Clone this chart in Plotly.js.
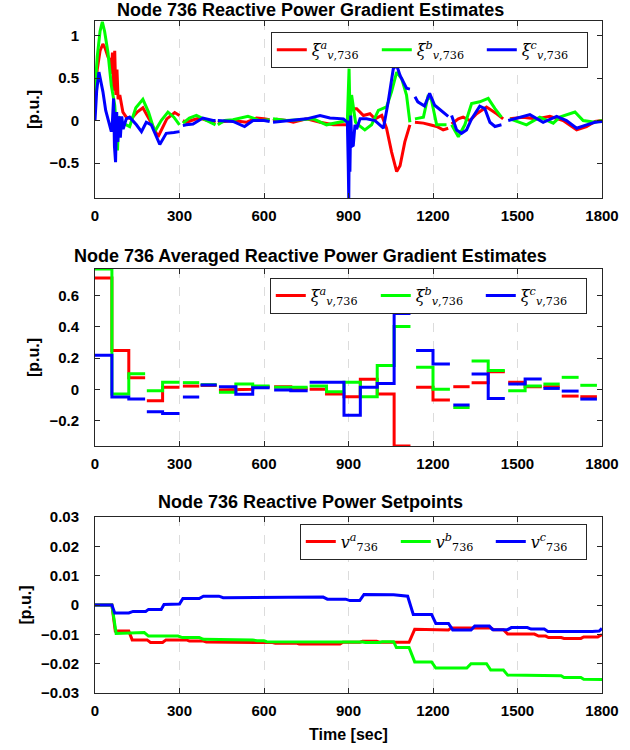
<!DOCTYPE html>
<html>
<head>
<meta charset="utf-8">
<script src="https://cdn.plot.ly/plotly-3.0.1.min.js"></script>
<style>html,body{margin:0;padding:0;background:#fff;}#chart{width:630px;height:750px;}</style>
</head>
<body>
<div id="chart"></div>
<script>
// ---------- Panel 1: raw gradient estimates (null = gap in data) ----------
const tA = [0,8,18,28,36,46,52,58,62,66,70,74,78,82,88,99,111,129,150,170,195,224,255,283,300,305,312,324,350,371,400,428,432,436,460,490,537,573,600,620,626,632,645,680,704,751,799,846,893,900,905,929,953,976,994,1018,1035,1053,1071,1083,1100,1118,1127,1136,1166,1189,1213,1236,1254,1260,1266,1290,1307,1331,1355,1390,1426,1449,1460,1473,1520,1568,1615,1662,1710,1745,1775,1800];
const xiA = [0.3,0.6,0.82,0.9,0.85,0.75,0.72,0.55,0.8,0.35,0.82,0.3,0.6,0.25,0.3,0.1,0.04,0.02,0.1,0.15,0.0,-0.19,0.02,0.094,0.06,null,0.0,-0.02,0.01,0.03,0.0,-0.02,null,-0.02,-0.01,0.0,-0.02,0.03,0.02,0.01,null,0.0,0.015,0.0,-0.02,0.02,-0.02,-0.05,-0.05,-0.04,0.14,0.14,0.06,0.08,0.02,0.06,-0.09,-0.37,-0.6,-0.53,-0.25,-0.05,null,-0.02,-0.03,-0.05,-0.07,-0.11,-0.09,null,-0.04,0.02,0.04,0.0,0.08,0.16,0.08,0.02,null,0.02,0.04,0.02,0.05,0.0,-0.11,-0.07,-0.01,0.0];

const tB = [0,8,18,26,34,46,58,70,76,80,84,92,111,123,145,170,190,212,235,259,280,300,305,312,335,360,400,428,432,436,460,490,543,585,620,626,632,680,728,775,822,870,896,902,906,911,917,925,935,958,982,1006,1035,1053,1071,1089,1106,1118,1127,1136,1166,1182,1194,1213,1248,1258,1266,1290,1313,1337,1366,1396,1420,1443,1460,1473,1532,1579,1627,1650,1704,1733,1775,1800];
const xiB = [0.35,0.75,1.05,1.16,1.05,0.8,0.41,0.18,-0.1,-0.35,0.05,-0.02,-0.05,-0.07,0.15,0.25,0.1,-0.13,0.0,0.1,0.04,-0.05,null,-0.03,0.03,0.06,0.0,-0.05,null,-0.05,0.0,0.01,0.05,0.0,0.01,null,0.02,0.0,0.01,0.02,-0.05,-0.02,0.0,0.61,-0.05,0.3,0.18,-0.02,-0.05,-0.11,-0.05,0.12,0.16,0.34,0.57,0.49,0.3,-0.02,null,0.02,0.04,0.28,0.25,-0.05,-0.05,null,-0.05,-0.19,-0.05,0.2,0.22,0.26,0.14,0.04,null,0.02,-0.05,0.04,-0.03,0.04,0.1,0.0,-0.02,0.0];

const tC = [0,6,14,22,28,38,46,58,62,66,69,73,77,81,85,90,95,100,111,123,147,165,182,200,230,253,280,300,305,312,324,348,383,419,428,432,436,490,531,561,600,620,626,632,657,704,751,799,834,882,896,899,901,903,905,908,912,917,923,929,941,964,994,1024,1041,1059,1071,1083,1106,1118,1127,1136,1146,1170,1188,1206,1230,1254,1260,1266,1284,1301,1319,1337,1366,1384,1402,1420,1443,1455,1467,1497,1544,1591,1639,1674,1710,1745,1775,1800];
const xiC = [0.0,0.35,0.57,0.45,0.34,0.12,0.02,-0.13,0.0,0.26,-0.3,-0.49,0.1,-0.25,0.05,-0.2,0.05,-0.1,0.02,0.04,-0.05,-0.13,-0.02,-0.05,-0.28,-0.15,-0.14,-0.13,null,-0.06,-0.05,-0.04,0.03,0.0,0.0,null,0.0,-0.01,-0.07,0.0,0.0,-0.01,null,-0.02,-0.01,0.0,0.02,0.06,0.03,0.02,-0.02,-0.5,-0.93,0.0,-0.6,0.06,-0.3,-0.29,-0.05,-0.1,0.02,0.02,0.0,-0.09,0.22,0.61,0.65,0.53,0.38,0.37,null,0.28,0.22,0.17,0.32,0.18,0.12,0.05,null,0.06,-0.11,-0.15,-0.11,0.02,0.17,0.14,-0.02,-0.07,-0.05,null,0.0,0.03,0.07,-0.02,0.05,0.0,-0.09,-0.05,-0.02,-0.01];

// ---------- Panel 2: averaged estimates, one value per averaging window ----------
const segStart = [0,60,120,184,240,312,375,440,500,560,636,695,762,822,884,942,1002,1062,1140,1200,1272,1337,1396,1467,1527,1592,1657,1723];
const segEnd   = [60,120,178,240,300,370,432,500,560,620,695,755,822,884,942,1002,1062,1120,1200,1260,1330,1396,1455,1527,1586,1650,1717,1782];
const avgA = [0.712,0.248,0.075,-0.073,0.013,0.021,0.025,-0.004,0.0,0.017,0.017,0.004,0.0,-0.03,-0.047,0.064,-0.03,-0.362,0.013,-0.068,0.017,0.043,0.113,0.045,0.017,0.017,-0.043,-0.047];
const avgB = [0.77,-0.03,0.1,-0.009,0.045,0.043,0.03,-0.019,0.034,0.021,0.013,0.013,0.021,-0.015,0.045,-0.047,0.152,0.402,0.141,0.0,-0.116,0.182,0.12,-0.009,0.021,0.034,0.077,0.026];
const avgC = [0.218,-0.049,-0.062,-0.143,-0.154,-0.049,0.028,0.017,-0.032,0.011,-0.004,-0.009,0.045,0.045,-0.165,0.013,0.038,0.485,0.248,0.163,-0.1,0.098,-0.058,0.034,0.066,0.006,-0.011,-0.062];

// ---------- Panel 3: reactive power setpoints ----------
const tVa = [0,60,72,120,132,185,197,240,252,325,335,385,395,440,450,630,640,715,725,870,880,940,950,1000,1010,1115,1135,1255,1265,1405,1415,1450,1465,1560,1575,1600,1610,1655,1665,1725,1735,1785,1800];
const vA  = [0,0,-0.0089,-0.0089,-0.0119,-0.0119,-0.0128,-0.0128,-0.0119,-0.0119,-0.0123,-0.0123,-0.0126,-0.0126,-0.0128,-0.0128,-0.013,-0.013,-0.0133,-0.0133,-0.0127,-0.0127,-0.0124,-0.0124,-0.0127,-0.0127,-0.0083,-0.0085,-0.0078,-0.0078,-0.0084,-0.0084,-0.0099,-0.0099,-0.0106,-0.0106,-0.0111,-0.0111,-0.0114,-0.0114,-0.0109,-0.0109,-0.0101];
const tVb = [0,60,75,175,190,295,310,370,385,440,450,560,575,600,610,820,830,880,890,950,960,1010,1020,1060,1070,1115,1135,1195,1210,1320,1335,1390,1405,1450,1465,1595,1605,1655,1665,1725,1735,1800];
const vB  = [0,0,-0.0097,-0.0094,-0.0106,-0.0106,-0.0111,-0.0111,-0.0117,-0.0117,-0.0119,-0.0119,-0.0122,-0.0122,-0.0125,-0.0125,-0.0127,-0.0127,-0.0126,-0.0126,-0.0128,-0.0128,-0.0125,-0.0125,-0.0145,-0.0145,-0.0194,-0.0194,-0.0215,-0.0215,-0.02,-0.02,-0.0222,-0.0222,-0.0239,-0.0239,-0.0241,-0.0241,-0.0247,-0.0247,-0.0253,-0.0254];
const tVc = [0,60,70,120,135,180,190,235,245,300,312,370,385,440,455,570,585,810,825,890,905,940,955,1060,1110,1130,1195,1210,1255,1270,1335,1348,1400,1412,1465,1478,1535,1548,1595,1608,1765,1790,1800];
const vC  = [0,0,-0.0027,-0.0027,-0.0022,-0.0022,-0.0015,-0.0015,0.0002,0.0003,0.0022,0.0022,0.003,0.003,0.0025,0.0026,0.0027,0.0027,0.002,0.002,0.0015,0.0015,0.0036,0.0035,0.003,-0.0032,-0.0032,-0.0063,-0.0063,-0.0085,-0.0085,-0.0072,-0.0072,-0.0084,-0.0084,-0.0077,-0.0077,-0.0082,-0.0082,-0.009,-0.009,-0.0089,-0.008];

// ---------- tick labels ----------
const xTicks = [0,300,600,900,1200,1500,1800];
const y1Ticks = [-0.5,0,0.5,1];
const y1Text = ['\u22120.5','0','0.5','1'];
const y2Ticks = [-0.2,0,0.2,0.4,0.6];
const y2Text = ['\u22120.2','0','0.2','0.4','0.6'];
const y3Ticks = [-0.03,-0.02,-0.01,0,0.01,0.02,0.03];
const y3Text = ['\u22120.03','\u22120.02','\u22120.01','0','0.01','0.02','0.03'];

const RED = '#ff0000', GREEN = '#00ff00', BLUE = '#0000ff';

function stairs(vals){
  const x = [], y = [];
  for (let i = 0; i < segStart.length; i++){
    x.push(segStart[i], segEnd[i]);
    y.push(vals[i], vals[i]);
    if (i < segStart.length - 1 && segStart[i+1] !== segEnd[i]){ x.push(segEnd[i]); y.push(null); }
  }
  return {x, y};
}

const lbl = (base, sup, bar) => '<i>' + base + (bar ? '\u0305' : '') + '</i><sup><i>' + sup + '</i></sup><sub><i>v</i>,736</sub>';

const sA = stairs(avgA), sB = stairs(avgB), sC = stairs(avgC);
const W1 = 3, W2 = 3;
const traces = [
  {x:tA, y:xiA, name:lbl('ξ','a'), line:{color:RED,width:W1}, xaxis:'x', yaxis:'y', legend:'legend'},
  {x:tB, y:xiB, name:lbl('ξ','b'), line:{color:GREEN,width:W1}, xaxis:'x', yaxis:'y', legend:'legend'},
  {x:tC, y:xiC, name:lbl('ξ','c'), line:{color:BLUE,width:W1}, xaxis:'x', yaxis:'y', legend:'legend'},
  {x:sA.x, y:sA.y, name:lbl('ξ','a',true), line:{color:RED,width:W2}, xaxis:'x2', yaxis:'y2', legend:'legend2'},
  {x:sB.x, y:sB.y, name:lbl('ξ','b',true), line:{color:GREEN,width:W2}, xaxis:'x2', yaxis:'y2', legend:'legend2'},
  {x:sC.x, y:sC.y, name:lbl('ξ','c',true), line:{color:BLUE,width:W2}, xaxis:'x2', yaxis:'y2', legend:'legend2'},
  {x:tVa, y:vA, name:'<i>v</i><sup><i>a</i></sup><sub>736</sub>', line:{color:RED,width:W2}, xaxis:'x3', yaxis:'y3', legend:'legend3'},
  {x:tVb, y:vB, name:'<i>v</i><sup><i>b</i></sup><sub>736</sub>', line:{color:GREEN,width:W2}, xaxis:'x3', yaxis:'y3', legend:'legend3'},
  {x:tVc, y:vC, name:'<i>v</i><sup><i>c</i></sup><sub>736</sub>', line:{color:BLUE,width:W2}, xaxis:'x3', yaxis:'y3', legend:'legend3'}
].map(t => Object.assign({type:'scatter', mode:'lines', connectgaps:false, hoverinfo:'skip'}, t));

const FONT = 'Liberation Sans, Arial, Helvetica, sans-serif';
const tickFont = {family:FONT, size:15, color:'#000', weight:'bold'};
function xAx(anchor, title){
  const a = {anchor:anchor, range:[0,1800], tickvals:xTicks, ticktext:xTicks.map(String), tickfont:tickFont,
    showline:true, linecolor:'#262626', linewidth:1, mirror:'ticks', ticks:'inside', ticklen:5, tickcolor:'#262626',
    showgrid:true, gridcolor:'#dcdcdc', griddash:'dash', gridwidth:1, zeroline:false, ticklabelstandoff:4};
  if (title) a.title = {text:title, font:{family:FONT, size:16, color:'#000', weight:'bold'}, standoff:10};
  return a;
}
function yAx(anchor, domain, range, tv, tt){
  return {anchor:anchor, domain:domain, range:range, tickvals:tv, ticktext:tt, tickfont:tickFont,
    showline:true, linecolor:'#262626', linewidth:1, mirror:'ticks', ticks:'inside', ticklen:5, tickcolor:'#262626',
    showgrid:false, zeroline:false, ticklabelstandoff:12,
    title:{text:'[p.u.]', font:{family:FONT, size:16, color:'#000', weight:'bold'}, standoff:5}};
}
const legBase = {orientation:'h', bgcolor:'#ffffff', bordercolor:'#262626', borderwidth:1, xanchor:'right', yanchor:'top',
  entrywidthmode:'pixels', tracegroupgap:0,
  font:{family:'DejaVu Serif, Liberation Serif, serif', size:16, color:'#000'}, itemclick:false, itemdoubleclick:false};

const titleFont = {family:FONT, size:18, color:'#000', weight:'bold'};
const tx = 0.425;
const layout = {
  width:630, height:750, margin:{l:95, r:28, t:21, b:57},
  paper_bgcolor:'#ffffff', plot_bgcolor:'#ffffff', showlegend:true,
  xaxis:xAx('y'), xaxis2:xAx('y2'), xaxis3:xAx('y3','Time [sec]'),
  yaxis:yAx('x',[0.7366,1],[-0.91,1.17],y1Ticks,y1Text),
  yaxis2:yAx('x2',[0.3676,0.6310],[-0.362,0.77],y2Ticks,y2Text),
  yaxis3:yAx('x3',[0,0.2619],[-0.03,0.03],y3Ticks,y3Text),
  legend:Object.assign({}, legBase, {x:0.972, y:0.984, entrywidth:60}),
  legend2:Object.assign({}, legBase, {x:0.970, y:0.618, entrywidth:60}),
  legend3:Object.assign({}, legBase, {x:0.970, y:0.252, entrywidth:50}),
  annotations:[
    {text:'Node 736 Reactive Power Gradient Estimates', xref:'paper', yref:'paper', x:tx, y:1.0164, xanchor:'center', yanchor:'middle', showarrow:false, font:titleFont},
    {text:'Node 736 Averaged Reactive Power Gradient Estimates', xref:'paper', yref:'paper', x:tx, y:0.6503, xanchor:'center', yanchor:'middle', showarrow:false, font:titleFont},
    {text:'Node 736 Reactive Power Setpoints', xref:'paper', yref:'paper', x:tx, y:0.2842, xanchor:'center', yanchor:'middle', showarrow:false, font:titleFont}
  ]
};
Plotly.newPlot('chart', traces, layout, {staticPlot:true, displayModeBar:false});
</script>
</body>
</html>
